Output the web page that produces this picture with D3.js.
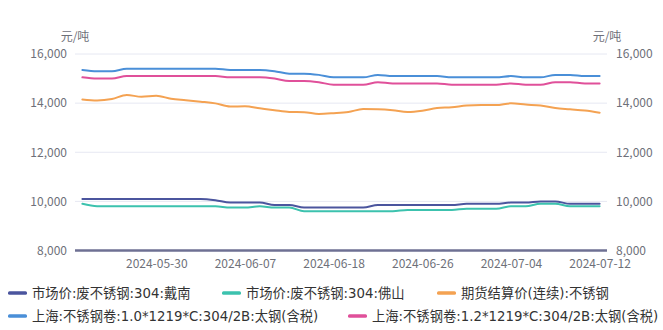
<!DOCTYPE html>
<html>
<head>
<meta charset="utf-8">
<script src="https://cdn.jsdelivr.net/npm/d3@7/dist/d3.min.js"></script>
<style>
  html, body { margin: 0; padding: 0; background: #ffffff; }
  svg { display: block; font-family: "Noto Sans CJK SC", "Noto Sans", sans-serif; }
</style>
</head>
<body>
<svg id="chart" width="663" height="330"></svg>
<script>
// Trading days (category axis)
const dates = [
  "2024-05-23","2024-05-24","2024-05-27","2024-05-28","2024-05-29","2024-05-30",
  "2024-05-31","2024-06-03","2024-06-04","2024-06-05","2024-06-06","2024-06-07",
  "2024-06-11","2024-06-12","2024-06-13","2024-06-14","2024-06-17","2024-06-18",
  "2024-06-19","2024-06-20","2024-06-21","2024-06-24","2024-06-25","2024-06-26",
  "2024-06-27","2024-06-28","2024-07-01","2024-07-02","2024-07-03","2024-07-04",
  "2024-07-05","2024-07-08","2024-07-09","2024-07-10","2024-07-11","2024-07-12"
];

// Dates shown under the x axis
const xTickLabels = ["2024-05-30","2024-06-07","2024-06-18","2024-06-26","2024-07-04","2024-07-12"];

// Y axis ticks (元/吨)
const yTicks = [8000, 10000, 12000, 14000, 16000];

// Series names
const seriesNames = [
  "市场价:废不锈钢:304:戴南",
  "市场价:废不锈钢:304:佛山",
  "期货结算价(连续):不锈钢",
  "上海:不锈钢卷:1.0*1219*C:304/2B:太钢(含税)",
  "上海:不锈钢卷:1.2*1219*C:304/2B:太钢(含税)"
];

// Series values (元/吨)
const scrapDainan = [
  10100,10100,10100,10100,10100,10100,10100,10100,10100,10050,9950,9950,
  9950,9850,9850,9750,9750,9750,9750,9750,9850,9850,9850,9850,
  9850,9850,9900,9900,9900,9950,9950,10000,10000,9900,9900,9900
];
const scrapFoshan = [
  9900,9800,9800,9800,9800,9800,9800,9800,9800,9800,9750,9750,
  9800,9750,9750,9600,9600,9600,9600,9600,9600,9600,9650,9650,
  9650,9650,9700,9700,9700,9800,9800,9900,9900,9800,9800,9800
];
const futuresSettle = [
  14150,14110,14170,14330,14260,14300,14180,14120,14060,13990,13860,13870,
  13790,13710,13640,13630,13560,13590,13640,13760,13750,13710,13640,13690,
  13800,13830,13900,13920,13920,13990,13940,13900,13800,13750,13700,13610
];
const coil10 = [
  15350,15300,15300,15400,15400,15400,15400,15400,15400,15400,15350,15350,
  15350,15300,15200,15200,15150,15050,15050,15050,15150,15100,15100,15100,
  15100,15050,15050,15050,15050,15100,15050,15050,15150,15150,15100,15100
];
const coil12 = [
  15050,15000,15000,15100,15100,15100,15100,15100,15100,15100,15050,15050,
  15050,15000,14900,14900,14850,14750,14750,14750,14850,14800,14800,14800,
  14800,14750,14750,14750,14750,14800,14750,14750,14850,14850,14800,14800
];

const seriesValues = [scrapDainan, scrapFoshan, futuresSettle, coil10, coil12];
const seriesColors = ["#4b559e", "#3cc2ae", "#f4a252", "#4a8fd8", "#e0509a"];

const svg = d3.select("#chart");
const plot = { left: 75, right: 607, top: 54, bottom: 250.5 };

const x = d3.scalePoint()
  .domain(dates)
  .range([plot.left, plot.right])
  .padding(0.5);

const y = d3.scaleLinear()
  .domain([8000, 16000])
  .range([plot.bottom, plot.top]);

const labelColor = "#6e7079";

// Horizontal grid lines
svg.append("g")
  .selectAll("line")
  .data(yTicks.filter(d => d !== 8000))
  .join("line")
  .attr("x1", plot.left).attr("x2", plot.right)
  .attr("y1", d => y(d)).attr("y2", d => y(d))
  .attr("stroke", "#e6e8f2")
  .attr("stroke-width", 1);

// Left and right value axes
const leftAxis = d3.axisLeft(y).tickValues(yTicks).tickSize(0).tickPadding(8)
  .tickFormat(d3.format(","));
const rightAxis = d3.axisRight(y).tickValues(yTicks).tickSize(0).tickPadding(9)
  .tickFormat(d3.format(","));

const gl = svg.append("g").attr("transform", `translate(${plot.left},0)`).call(leftAxis);
const gr = svg.append("g").attr("transform", `translate(${plot.right},0)`).call(rightAxis);
[gl, gr].forEach(g => {
  g.select(".domain").remove();
  g.selectAll("text")
    .attr("fill", labelColor)
    .style("font-size", "12px")
    .style("font-family", "\"Noto Sans CJK SC\", sans-serif");
});

// Unit labels
svg.append("text").attr("x", 75).attr("y", 41).attr("text-anchor", "middle")
  .attr("fill", labelColor).style("font-size", "12px").text("元/吨");
svg.append("text").attr("x", 607).attr("y", 41).attr("text-anchor", "middle")
  .attr("fill", labelColor).style("font-size", "12px").text("元/吨");

// Category axis
const bottomAxis = d3.axisBottom(x).tickValues(xTickLabels).tickSize(0).tickPadding(9);
const gb = svg.append("g").attr("transform", `translate(0,${plot.bottom})`).call(bottomAxis);
gb.select(".domain").remove();
gb.selectAll("text")
  .attr("fill", labelColor)
  .style("font-size", "12px")
  .style("font-family", "\"Noto Sans CJK SC\", sans-serif");

svg.append("line")
  .attr("x1", plot.left).attr("x2", plot.right)
  .attr("y1", y(8000)).attr("y2", y(8000))
  .attr("stroke", "#6e7093")
  .attr("stroke-width", 2.5);

// Series lines
const line = d3.line()
  .x((d, i) => x(dates[i]))
  .y(d => y(d))
  .curve(d3.curveMonotoneX);

svg.append("g")
  .selectAll("path")
  .data(seriesValues)
  .join("path")
  .attr("d", d => line(d))
  .attr("fill", "none")
  .attr("stroke", (d, i) => seriesColors[i])
  .attr("stroke-width", 2)
  .attr("stroke-linejoin", "round")
  .attr("stroke-linecap", "round");

// Legend
const legendPos = [
  { x: 8, y: 293 }, { x: 222, y: 293 }, { x: 437, y: 293 },
  { x: 8, y: 316 }, { x: 348, y: 316 }
];
const legend = svg.append("g")
  .selectAll("g")
  .data(seriesNames)
  .join("g")
  .attr("transform", (d, i) => `translate(${legendPos[i].x},${legendPos[i].y})`);

legend.append("rect")
  .attr("x", 0).attr("y", -1.75)
  .attr("width", 19).attr("height", 3.5)
  .attr("rx", 1.5)
  .attr("fill", (d, i) => seriesColors[i]);

legend.append("text")
  .attr("x", 24).attr("y", 0)
  .attr("dy", "0.35em")
  .attr("fill", "#333333")
  .style("font-size", "13.3px")
  .style("font-family", "\"DejaVu Sans\", \"Noto Sans CJK SC\", sans-serif")
  .text(d => d);
</script>
</body>
</html>
